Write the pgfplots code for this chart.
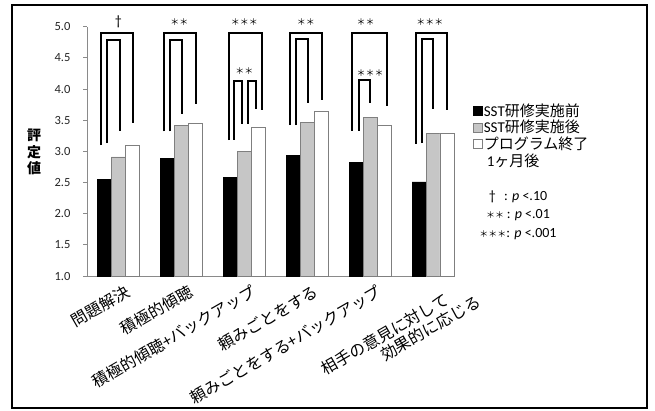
\documentclass[border=0pt]{standalone}
\usepackage{fontspec}
\setmainfont{Carlito}
\newfontfamily\cjk{Noto Sans CJK JP}
\usepackage{pgfplots}
\usepackage{pgfplotstable}
\pgfplotsset{compat=1.18}

\definecolor{barGray}{HTML}{C6C6C6}
\definecolor{edgeGray}{HTML}{7F7F7F}
\definecolor{axisGray}{HTML}{8A8A8A}

% mean ratings: before SST training, after training, one month after the programme
\pgfplotstableread{
x pre  post follow
0 2.55 2.91 3.10
1 2.89 3.42 3.45
2 2.58 3.00 3.39
3 2.94 3.46 3.64
4 2.82 3.55 3.42
5 2.51 3.29 3.29
}\ratings

\newcommand\sig[1]{{\cjk\fontsize{9}{9}\selectfont #1}}

\pgfplotsset{
  sqlegend/.style 2 args={legend image code/.code={%
      \draw[fill=#1,draw=#2,line width=0.6pt] (0pt,-4.5pt) rectangle (9pt,4.5pt);}},
  bracket/.style={black, line width=2pt, line join=miter, sharp plot, mark=none, forget plot},
}

\begin{document}
\begin{tikzpicture}
\useasboundingbox (0pt,0pt) rectangle (655pt,410pt);
\draw[line width=2pt] (12pt,2pt) rectangle (647pt,404.5pt);
\begin{axis}[
  at={(87pt,134pt)}, anchor=south west,
  scale only axis, width=368pt, height=249.3pt,
  xmin=-0.5, xmax=5.35, ymin=1, ymax=5,
  axis x line*=bottom, axis y line*=left,
  axis line style={-, axisGray, line width=0.8pt},
  clip mode=individual,
  /pgf/number format/assume math mode=true,
  ytick={1,1.5,2,2.5,3,3.5,4,4.5,5},
  yticklabel={\pgfmathprintnumber[fixed,fixed zerofill,precision=1]{\tick}},
  yticklabel style={font=\fontsize{12.5}{15}\selectfont, text=black!85, xshift=-9pt},
  tick align=outside, major tick length=4pt,
  ytick style={axisGray, line width=0.8pt},
  xtick={0,1,2,3,4,5}, xtick style={draw=none},
  xticklabels={{問題解決},{積極的傾聴},{積極的傾聴+バックアップ},{頼みごとをする},{頼みごとをする+バックアップ},
    {\rule{0pt}{22.3pt}相手の意見に対して\rlap{\hspace{-85.3pt}\raisebox{-17.7pt}{効果的に応じる}}}},
  xticklabel style={xshift=6pt, yshift=-4pt, rotate=30, anchor=north east, inner sep=0pt,
    font=\cjk\fontsize{16}{17.7}\selectfont},
  ylabel={評\\定\\値},
  every axis y label/.style={at={(axis description cs:-0.144,0.497)}, anchor=center, align=center,
    font=\cjk\bfseries\fontsize{14}{16.5}\selectfont},
  legend cell align=left,
  legend style={at={(axis description cs:1.049,0.694)}, anchor=north west, draw=none, fill=none,
    inner sep=0pt, font=\fontsize{15}{16}\selectfont, row sep=0pt, nodes={inner sep=1pt},
    /tikz/every even column/.append style={column sep=2pt}},
]
\addplot[ybar, bar width=0.222, bar shift=-0.222, fill=black, draw=black, line width=0.6pt,
  sqlegend={black}{black}] table[x=x, y=pre]{\ratings};
\addlegendentry{SST{\cjk 研修実施前}}
\addplot[ybar, bar width=0.222, bar shift=0, fill=barGray, draw=edgeGray, line width=0.6pt,
  sqlegend={barGray}{edgeGray}] table[x=x, y=post]{\ratings};
\addlegendentry{SST{\cjk 研修実施後}}
\addplot[ybar, bar width=0.222, bar shift=0.222, fill=white, draw=edgeGray, line width=0.6pt,
  sqlegend={white}{edgeGray}] table[x=x, y=follow]{\ratings};
\addlegendentry{\begin{tabular}[t]{@{}l@{}}{\cjk プログラム終了}\\\hspace{0.2em}1{\cjk ヶ月後}\end{tabular}}

% significance brackets
\addplot[bracket] coordinates {(-0.27,3.10) (-0.27,4.905) (0.233,4.905) (0.233,3.46)};
\addplot[bracket] coordinates {(-0.175,3.13) (-0.175,4.79) (0.02,4.79) (0.02,3.32)};
\addplot[bracket] coordinates {(0.73,3.32) (0.73,4.905) (1.238,4.905) (1.238,3.76)};
\addplot[bracket] coordinates {(0.825,3.32) (0.825,4.79) (1.016,4.79) (1.016,3.60)};
\addplot[bracket] coordinates {(1.75,3.18) (1.75,4.90) (2.275,4.90) (2.275,3.66)};
\addplot[bracket] coordinates {(1.83,3.19) (1.83,4.135) (1.963,4.135) (1.963,3.44)};
\addplot[bracket] coordinates {(2.06,3.44) (2.06,4.135) (2.19,4.135) (2.19,3.68)};
\addplot[bracket] coordinates {(2.73,3.42) (2.73,4.905) (3.233,4.905) (3.233,3.83)};
\addplot[bracket] coordinates {(2.82,3.42) (2.82,4.80) (3.011,4.80) (3.011,3.77)};
\addplot[bracket] coordinates {(3.72,3.33) (3.72,4.90) (4.265,4.90) (4.265,3.72)};
\addplot[bracket] coordinates {(3.825,3.33) (3.825,4.15) (4.0,4.15) (4.0,3.78)};
\addplot[bracket] coordinates {(4.73,3.12) (4.73,4.905) (5.227,4.905) (5.227,3.66)};
\addplot[bracket] coordinates {(4.82,3.13) (4.82,4.80) (4.995,4.80) (4.995,3.68)};

\node[font=\fontsize{14}{14}\selectfont] at (axis cs:0,5.08) {†};
\node at (axis cs:0.97,5.08) {\sig{＊＊}};
\node at (axis cs:2.0,5.08) {\sig{＊＊＊}};
\node at (axis cs:2.98,5.08) {\sig{＊＊}};
\node at (axis cs:3.93,5.08) {\sig{＊＊}};
\node at (axis cs:4.95,5.08) {\sig{＊＊＊}};
\node at (axis cs:2.0,4.28) {\sig{＊＊}};
\node at (axis cs:4.0,4.25) {\sig{＊＊＊}};
\end{axis}
\node[align=center, font=\fontsize{14}{18.3}\selectfont] at (518pt,195pt)
  {†\hspace{0.6em}: \textit{p} <.10\\\sig{＊＊}\hspace{0.2em}: \textit{p} <.01\\\sig{＊＊＊}: \textit{p} <.001};
\end{tikzpicture}
\end{document}
